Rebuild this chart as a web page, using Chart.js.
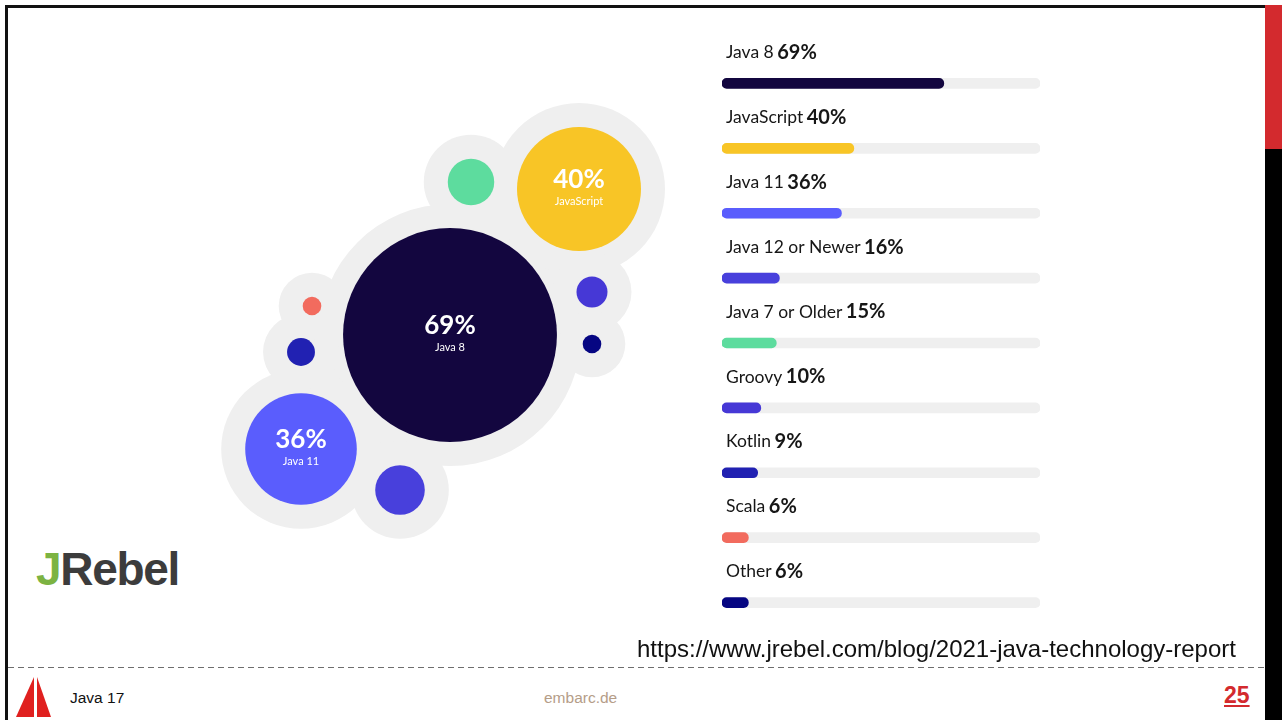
<!DOCTYPE html>
<html lang="de">
<head>
<meta charset="utf-8">
<title>Java 17 - JRebel Java Technology Report</title>
<script src="https://cdn.jsdelivr.net/npm/chart.js@4.4.0/dist/chart.umd.min.js"></script>
<style>
  body { margin: 0; width: 1282px; height: 720px; background: #fff; position: relative; overflow: hidden; font-family: "Liberation Sans", Arial, sans-serif; }
  .marco-sup { position: absolute; left: 5px; top: 5px; width: 1277px; height: 3px; background: #111; }
  .marco-izq { position: absolute; left: 5px; top: 5px; width: 3px; height: 715px; background: #111; }
  .franja { position: absolute; left: 1265px; top: 5px; width: 17px; height: 715px; background: #000; }
  .franja-roja { position: absolute; left: 1265px; top: 5px; width: 17px; height: 144px; background: #d32a2e; }
  .linea { position: absolute; left: 8px; top: 667px; width: 1256px; height: 1px; background: repeating-linear-gradient(to right, #6e6e6e 0 6px, transparent 6px 10px); }
  #burbujas { position: absolute; left: 200px; top: 90px; }
  #barras { position: absolute; left: 700px; top: 20px; }
  .logo { position: absolute; left: 36px; top: 542px; font-weight: bold; font-size: 46px; letter-spacing: -1.3px; color: #3c3c3c; }
  .logo span { color: #7cb342; }
  .url { position: absolute; left: 637px; top: 635px; font-size: 24px; color: #111; }
  .pie { position: absolute; top: 689px; font-size: 15.5px; }
  .titulo { left: 70px; color: #111; }
  .web { left: 544px; color: #b59d88; }
  .pagina { left: 1224px; top: 682px; font-size: 23px; font-weight: bold; color: #d32a2e; text-decoration: underline; }
  .velero { position: absolute; left: 14px; top: 675px; }
</style>
</head>
<body>
<div class="marco-sup"></div>
<div class="marco-izq"></div>
<div class="franja"></div>
<div class="franja-roja"></div>

<canvas id="burbujas" width="480" height="470"></canvas>
<canvas id="barras" width="360" height="630"></canvas>

<div class="logo"><span>J</span>Rebel</div>
<div class="url">https://www.jrebel.com/blog/2021-java-technology-report</div>
<div class="linea"></div>
<svg class="velero" width="40" height="44" viewBox="0 0 40 44">
  <polygon points="20,2 2,42 20,42" fill="#e0201f"/>
  <polygon points="23,2 23,42 37,42" fill="#e0201f"/>
</svg>
<div class="pie titulo">Java 17</div>
<div class="pie web">embarc.de</div>
<div class="pie pagina">25</div>

<script>
const categorias = ["Java 8", "JavaScript", "Java 11", "Java 12 or Newer", "Java 7 or Older", "Groovy", "Kotlin", "Scala", "Other"];
const valores = [69, 40, 36, 16, 15, 10, 9, 6, 6];
const colores = ["#13063f", "#f8c526", "#5a5dfd", "#4840dc", "#5ddc9e", "#4638d6", "#2121b2", "#f26b5e", "#060682"];

// posicion de cada burbuja en el lienzo (solo maquetacion)
const posX = [450, 579, 301, 400, 471, 592, 301, 312, 592];
const posY = [335, 189, 449, 490, 182, 292, 352, 306, 344];

const escalaRadio = 1.55;
const halo = 24;
const inicioEje = -2.5;
const fuente = "Lato, 'Noto Sans', sans-serif";

const puntos = valores.map((v, i) => ({ x: posX[i], y: posY[i], r: v * escalaRadio }));
const puntosHalo = valores.map((v, i) => ({ x: posX[i], y: posY[i], r: v * escalaRadio + halo }));

const textoBurbujas = {
    id: "textoBurbujas",
    afterDatasetsDraw(chart) {
        const ctx = chart.ctx;
        const meta = chart.getDatasetMeta(0);
        ctx.save();
        ctx.fillStyle = "#fff";
        ctx.textAlign = "center";
        ctx.textBaseline = "middle";
        meta.data.slice(0, 3).forEach((p, i) => {
            ctx.font = `bold 26px ${fuente}`;
            ctx.fillText(valores[i] + "%", p.x, p.y - 9);
            ctx.font = `11px ${fuente}`;
            ctx.fillText(categorias[i], p.x, p.y + 12);
        });
        ctx.restore();
    }
};

const textoBarras = {
    id: "textoBarras",
    afterDatasetsDraw(chart) {
        const ctx = chart.ctx;
        const meta = chart.getDatasetMeta(0);
        const x = chart.chartArea.left + 4;
        ctx.save();
        ctx.fillStyle = "#161616";
        ctx.textBaseline = "middle";
        meta.data.forEach((bar, i) => {
            const y = bar.y - 31;
            ctx.font = `17.5px ${fuente}`;
            const nombre = categorias[i] + " ";
            ctx.fillText(nombre, x, y);
            const ancho = ctx.measureText(nombre).width;
            ctx.font = `bold 20px ${fuente}`;
            ctx.fillText(valores[i] + "%", x + ancho - 1, y);
        });
        ctx.restore();
    }
};

new Chart(document.querySelector("#burbujas"), {
    type: "bubble",
    data: {
        datasets: [
            { data: puntos, backgroundColor: colores, borderWidth: 0, clip: false, order: 1 },
            { data: puntosHalo, backgroundColor: "#efefef", borderWidth: 0, clip: false, order: 2 }
        ]
    },
    options: {
        responsive: false,
        animation: false,
        events: [],
        layout: { autoPadding: false, padding: 0 },
        plugins: { legend: { display: false }, tooltip: { enabled: false } },
        scales: {
            x: { display: false, min: 200, max: 680 },
            y: { display: false, min: 90, max: 560, reverse: true }
        }
    },
    plugins: [textoBurbujas]
});

new Chart(document.querySelector("#barras"), {
    type: "bar",
    data: {
        labels: categorias,
        datasets: [
            { data: valores, backgroundColor: colores, base: inicioEje, barThickness: 10, borderRadius: 5, borderSkipped: false, grouped: false, order: 1 },
            { data: categorias.map(() => 100), backgroundColor: "#efefef", base: inicioEje, barThickness: 10, borderRadius: 5, borderSkipped: false, grouped: false, order: 2 }
        ]
    },
    options: {
        indexAxis: "y",
        responsive: false,
        animation: false,
        events: [],
        layout: { autoPadding: false, padding: { left: 22, right: 20, top: 31, bottom: 15 } },
        plugins: { legend: { display: false }, tooltip: { enabled: false } },
        scales: {
            x: { display: false, min: inicioEje, max: 100 },
            y: { display: false }
        }
    },
    plugins: [textoBarras]
});
</script>
</body>
</html>
